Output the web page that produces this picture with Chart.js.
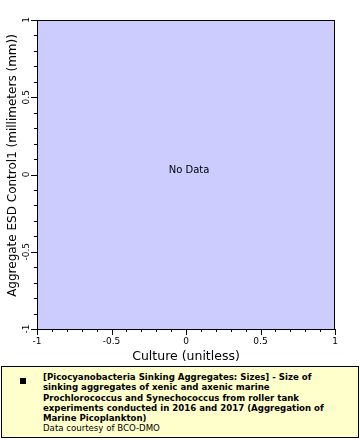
<!DOCTYPE html>
<html>
<head>
<meta charset="utf-8">
<script src="https://cdn.jsdelivr.net/npm/chart.js@4/dist/chart.umd.min.js"></script>
<style>
    body { margin: 0; width: 360px; height: 440px; background: #fff; font-family: 'DejaVu Sans', sans-serif; }
    #wrap { position: absolute; left: 0; top: 0; width: 360px; height: 366px; }
    #legend {
        position: absolute; left: 1px; top: 366px; width: 358px; height: 72px;
        box-sizing: border-box; border: 1px solid #000; background: #ffffcc;
    }
    #legend .mark { position: absolute; left: 18px; top: 11px; width: 6px; height: 6px; background: #000; }
    #legend .txt {
        position: absolute; left: 41px; top: 5px; width: 300px;
        font-size: 8.6px; line-height: 10.3px; color: #000; white-space: nowrap;
    }
    #legend .txt b { font-weight: bold; }
</style>
</head>
<body>
<div id="wrap"><canvas id="grafica" width="360" height="366"></canvas></div>
<div id="legend">
    <div class="mark"></div>
    <div class="txt"><b>[Picocyanobacteria Sinking Aggregates: Sizes] - Size of<br>sinking aggregates of xenic and axenic marine<br>Prochlorococcus and Synechococcus from roller tank<br>experiments conducted in 2016 and 2017 (Aggregation of<br>Marine Picoplankton)</b><br>Data courtesy of BCO-DMO</div>
</div>
<script>
// datos (la serie no tiene valores)
const seriesName = '[Picocyanobacteria Sinking Aggregates: Sizes]';
const cultureValues = [];
const esdValues = [];
const xTickLabels = ['-1', '-0.5', '0', '0.5', '1'];
const yTickLabels = ['-1', '-0.5', '0', '0.5', '1'];
const xTitle = 'Culture (unitless)';
const yTitle = 'Aggregate ESD Control1 (millimeters (mm))';
const emptyText = 'No Data';

document.addEventListener('DOMContentLoaded', function () {
    const canvas = document.getElementById('grafica');
    const puntos = cultureValues.map((x, i) => ({ x: x, y: esdValues[i] }));
    const xMajors = xTickLabels.map(Number);
    const yMajors = yTickLabels.map(Number);
    const esMayor = (v, lista) => lista.some(m => Math.abs(m - v) < 1e-6);

    const ejes = {
        id: 'ejes',
        beforeDraw(chart) {
            const { ctx, chartArea: a } = chart;
            ctx.save();
            ctx.fillStyle = '#ccccff';
            ctx.fillRect(a.left, a.top, a.right - a.left, a.bottom - a.top);
            ctx.restore();
        },
        afterDraw(chart) {
            const { ctx, chartArea: a } = chart;
            const xs = chart.scales.x, ys = chart.scales.y;
            ctx.save();
            ctx.strokeStyle = '#000';
            ctx.lineWidth = 1;
            ctx.strokeRect(a.left + 0.5, a.top + 0.5, a.right - a.left - 1, a.bottom - a.top);

            ctx.beginPath();
            xs.ticks.forEach(t => {
                const px = Math.round(xs.getPixelForValue(t.value)) + 0.5;
                const len = esMayor(t.value, xMajors) ? 6 : 3;
                ctx.moveTo(px, a.bottom);
                ctx.lineTo(px, a.bottom + len);
            });
            ys.ticks.forEach(t => {
                const py = Math.round(ys.getPixelForValue(t.value)) + 0.5;
                const len = esMayor(t.value, yMajors) ? 6 : 3;
                ctx.moveTo(a.left, py);
                ctx.lineTo(a.left - len, py);
            });
            ctx.stroke();

            ctx.fillStyle = '#000';
            ctx.font = '9px "DejaVu Sans"';
            ctx.textAlign = 'center';
            ctx.textBaseline = 'middle';
            xTickLabels.forEach(l => {
                ctx.fillText(l, xs.getPixelForValue(Number(l)), a.bottom + 13);
            });
            yTickLabels.forEach(l => {
                ctx.save();
                ctx.translate(a.left - 10, ys.getPixelForValue(Number(l)));
                ctx.rotate(-Math.PI / 2);
                ctx.fillText(l, 0, 0);
                ctx.restore();
            });

            ctx.font = '12.5px "DejaVu Sans"';
            ctx.fillText(xTitle, (a.left + a.right) / 2, a.bottom + 28);
            ctx.font = '12px "DejaVu Sans"';
            ctx.save();
            ctx.translate(13, (a.top + a.bottom) / 2 - 9);
            ctx.rotate(-Math.PI / 2);
            ctx.fillText(yTitle, 0, 0);
            ctx.restore();

            if (puntos.length === 0) {
                ctx.font = '10px "DejaVu Sans"';
                ctx.fillText(emptyText, (a.left + a.right) / 2 + 3, (a.top + a.bottom) / 2 - 4);
            }
            ctx.restore();
        }
    };

    new Chart(canvas, {
        type: 'scatter',
        data: {
            datasets: [{
                label: seriesName,
                data: puntos,
                backgroundColor: '#000',
                pointStyle: 'rect',
                pointRadius: 3
            }]
        },
        options: {
            responsive: false,
            animation: false,
            layout: { padding: { left: 0, top: 20, right: 25, bottom: 0 } },
            plugins: {
                legend: { display: false },
                tooltip: { enabled: false }
            },
            scales: {
                x: {
                    type: 'linear', min: -1, max: 1,
                    ticks: { display: false, stepSize: 0.1 },
                    grid: { display: false },
                    border: { display: false },
                    afterFit: s => { s.height = 37; }
                },
                y: {
                    type: 'linear', min: -1, max: 1,
                    ticks: { display: false, stepSize: 0.1 },
                    grid: { display: false },
                    border: { display: false },
                    afterFit: s => { s.width = 37; }
                }
            }
        },
        plugins: [ejes]
    });
});
</script>
</body>
</html>
